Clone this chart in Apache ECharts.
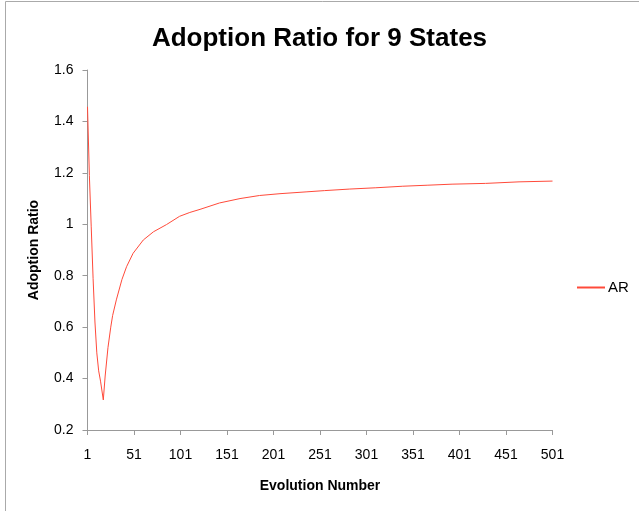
<!DOCTYPE html>
<html><head><meta charset="utf-8">
<script src="https://cdn.jsdelivr.net/npm/echarts@6/dist/echarts.min.js"></script>
<style>html,body{margin:0;padding:0;background:#fff}#c{width:639px;height:511px}</style>
</head><body><div id="c"></div>
<script>
var evolutions = [1,3,5,7,9,11,13,15,18,20,23,26,28,32,38,43,50,61,72,86,100,111,122,143,165,186,208,236,256,283,311,340,367,393,429,465,501];
var arValues = [1.457,1.19,0.99,0.79,0.62,0.50,0.43,0.39,0.317,0.41,0.52,0.60,0.645,0.706,0.785,0.835,0.887,0.939,0.971,0.999,1.031,1.046,1.058,1.083,1.100,1.112,1.119,1.126,1.131,1.137,1.142,1.148,1.152,1.156,1.159,1.165,1.168];
var xTickLabels = ['1','51','101','151','201','251','301','351','401','451','501'];
var seriesName = 'AR';

var chart = echarts.init(document.getElementById('c'), null, {renderer:'canvas'});
var pts = evolutions.map(function(e,i){return [e-1, arValues[i]];});
var font = 'Liberation Sans, Arial, sans-serif';
chart.setOption({
  animation:false,
  backgroundColor:'#fff',
  title:{text:'Adoption Ratio for 9 States',left:'center',top:21,
    textStyle:{fontFamily:font,fontSize:26,fontWeight:'bold',color:'#000'}},
  legend:{data:[seriesName],orient:'vertical',left:577,top:280,padding:0,itemWidth:28,itemHeight:2,itemGap:4,
    icon:'rect',
    textStyle:{fontFamily:font,fontSize:15,color:'#000',padding:[0,0,0,-2]}},
  grid:{left:87.5,right:86.5,top:70,bottom:81,containLabel:false},
  xAxis:{type:'value',min:0,max:500,interval:50,
    name:'Evolution Number',nameLocation:'middle',nameGap:49,
    nameTextStyle:{fontFamily:font,fontSize:14,fontWeight:'bold',color:'#000'},
    axisLine:{show:true,lineStyle:{color:'#999',width:1}},
    axisTick:{show:true,inside:false,length:5,lineStyle:{color:'#999'}},
    splitLine:{show:false},
    axisLabel:{fontFamily:font,fontSize:14,color:'#000',margin:18,
      formatter:function(v){return xTickLabels[Math.round(v/50)];}}},
  yAxis:{type:'value',min:0.2,max:1.6,interval:0.2,
    name:'Adoption Ratio',nameLocation:'middle',nameGap:46,
    nameTextStyle:{fontFamily:font,fontSize:14,fontWeight:'bold',color:'#000'},
    axisLine:{show:true,lineStyle:{color:'#999',width:1}},
    axisTick:{show:true,inside:false,length:5,lineStyle:{color:'#999'}},
    splitLine:{show:false},
    axisLabel:{fontFamily:font,fontSize:14,color:'#000',margin:14,
      formatter:function(v){return String(Math.round(v*10)/10);}}},
  graphic:[
    {type:'line',shape:{x1:5.5,y1:1.5,x2:639,y2:1.5},style:{stroke:'#aaa',lineWidth:1}},
    {type:'line',shape:{x1:5.5,y1:1.5,x2:5.5,y2:511},style:{stroke:'#aaa',lineWidth:1}}
  ],
  series:[{name:seriesName,type:'line',data:pts,showSymbol:false,symbol:'none',smooth:false,
    lineStyle:{color:'#ff4a3a',width:1},itemStyle:{color:'#ff4a3a'}}]
});
</script></body></html>
